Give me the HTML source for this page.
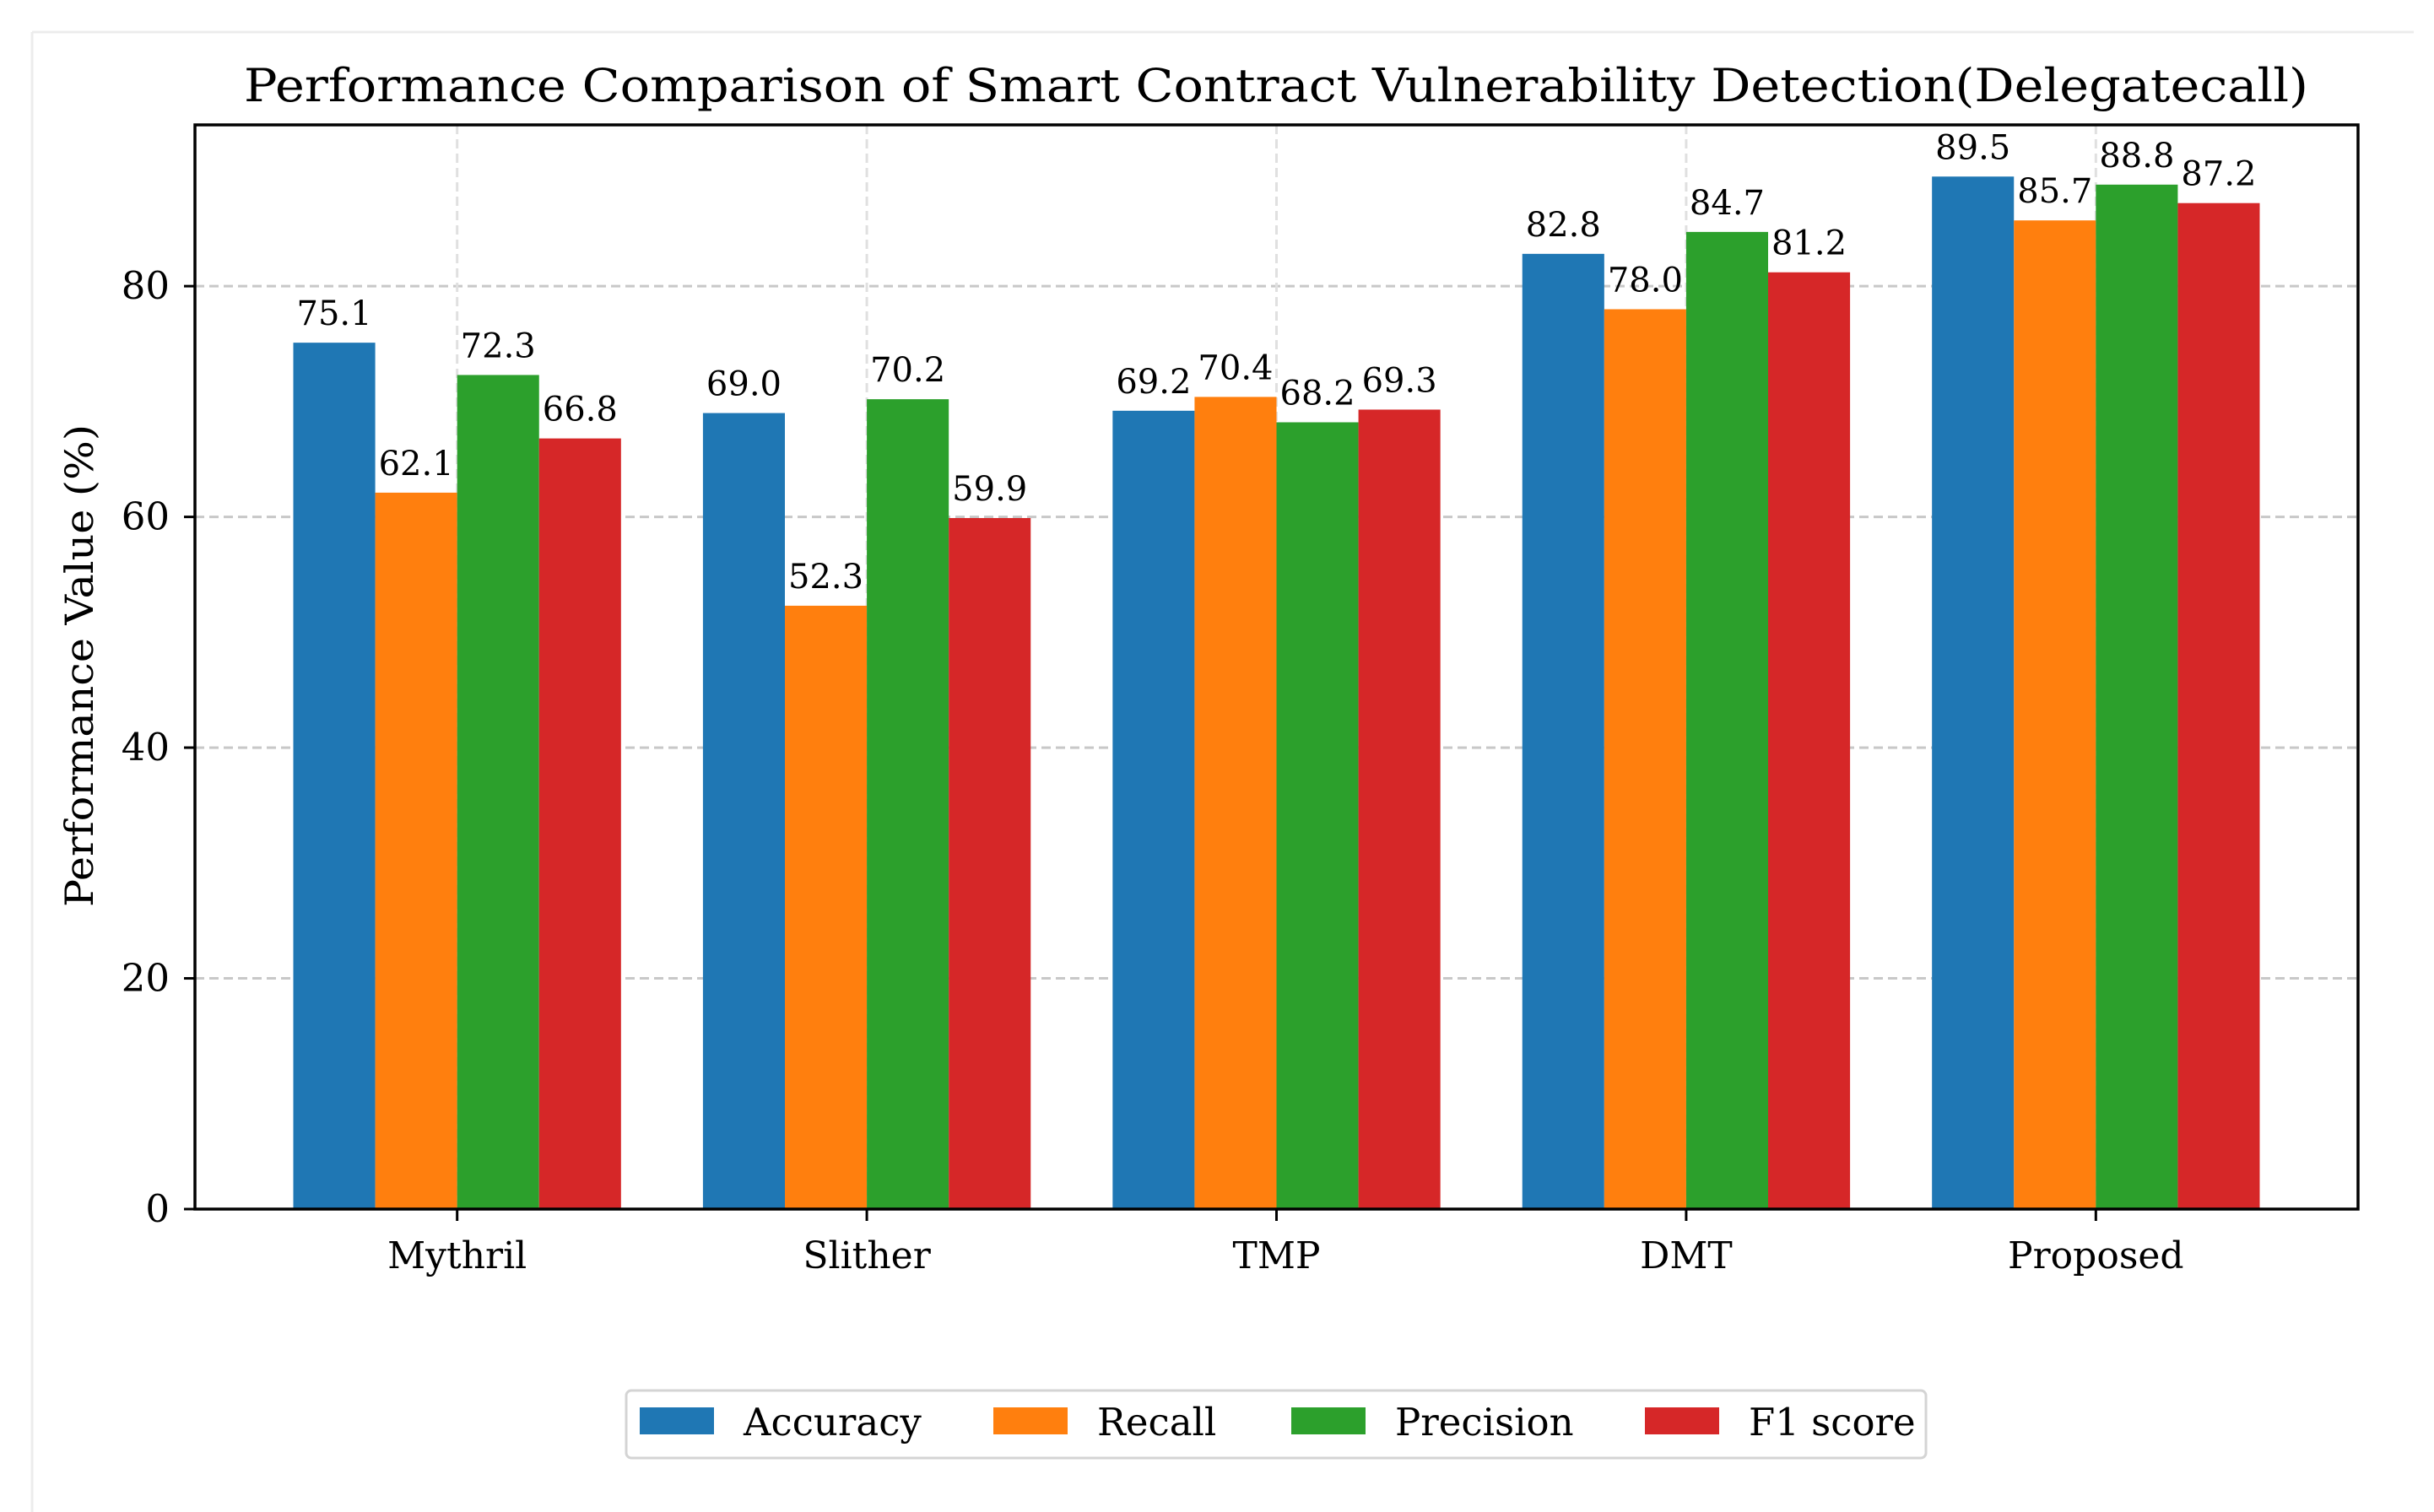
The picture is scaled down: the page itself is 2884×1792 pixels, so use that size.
<!DOCTYPE html>
<html><head><meta charset="utf-8"><style>
html,body{margin:0;padding:0;background:#fff;}
svg{display:block;font-family:"DejaVu Serif","Liberation Serif",serif;}
</style></head><body>
<svg id="chart" width="2884" height="1792" viewBox="0 0 2884 1792" xmlns="http://www.w3.org/2000/svg">
<line x1="38" y1="38" x2="2860" y2="38" stroke="#ececec" stroke-width="3"/>
<line x1="38" y1="38" x2="38" y2="1792" stroke="#ececec" stroke-width="3"/>
<text x="1512" y="120" font-size="54" text-anchor="middle" textLength="2446" lengthAdjust="spacingAndGlyphs" fill="#000">Performance Comparison of Smart Contract Vulnerability Detection(Delegatecall)</text>
<g id="grid"></g>
<g id="bars"></g>
<g id="labels"></g>
<g id="axes"></g>
<text transform="translate(110,789) rotate(-90)" font-size="46" text-anchor="middle" textLength="572" lengthAdjust="spacingAndGlyphs" fill="#000">Performance Value (%)</text>
<g id="legend"></g>
</svg>
<script>
const categories = ["Mythril","Slither","TMP","DMT","Proposed"];
const seriesNames = ["Accuracy","Recall","Precision","F1 score"];
const accuracy = [75.1,69.0,69.2,82.8,89.5];
const recall = [62.1,52.3,70.4,78.0,85.7];
const precision = [72.3,70.2,68.2,84.7,88.8];
const f1score = [66.8,59.9,69.3,81.2,87.2];
const yTicks = [0,20,40,60,80];
const series = [accuracy,recall,precision,f1score];
const colors = ["#1f77b4","#ff7f0e","#2ca02c","#d62728"];

const NS="http://www.w3.org/2000/svg";
const L=231,R=2794,T=148,B=1433;
const xMin=-0.64,xMax=categories.length-1+0.64,yMax=93.98;
const xs=v=>L+(v-xMin)/(xMax-xMin)*(R-L);
const ys=v=>B-v/yMax*(B-T);
const barW=0.2;
function mk(tag,attrs,parent){const e=document.createElementNS(NS,tag);for(const k in attrs)e.setAttribute(k,attrs[k]);parent.appendChild(e);return e;}
const grid=document.getElementById('grid'),bars=document.getElementById('bars'),labels=document.getElementById('labels'),axes=document.getElementById('axes');
yTicks.forEach(t=>{
  const g=mk('line',{x1:L,x2:R,y1:ys(t),y2:ys(t),stroke:'#c8c8c8','stroke-width':3,'stroke-dasharray':'11,6'},grid);
  
  
  const tk=mk('line',{x1:L-13,x2:L,y1:ys(t),y2:ys(t),stroke:'#000','stroke-width':3},axes);
  
  
  const tl=mk('text',{x:L-30,y:ys(t)+15,'font-size':45,'text-anchor':'end',fill:'#000'},axes);
  tl.textContent=t;
  
  
});
categories.forEach((c,i)=>{
  const g=mk('line',{x1:xs(i),x2:xs(i),y1:T,y2:B,stroke:'#e0e0e0','stroke-width':3,'stroke-dasharray':'11,6'},grid);
  
  
  const tk=mk('line',{x1:xs(i),x2:xs(i),y1:B,y2:B+14,stroke:'#000','stroke-width':3},axes);
  
  
  const tl=mk('text',{x:xs(i),y:1503,'font-size':44,'text-anchor':'middle',fill:'#000'},axes);
  tl.textContent=c;
  
  
  series.forEach((s,j)=>{
    const cx=i+(j-1.5)*barW;
    const x0=xs(cx-barW/2),x1=xs(cx+barW/2);
    const r=mk('rect',{x:x0,y:ys(s[i]),width:x1-x0,height:B-ys(s[i]),fill:colors[j]},bars);
    
    
    const vl=mk('text',{x:xs(cx),y:ys(s[i])-21,'font-size':40,'text-anchor':'middle',fill:'#000'},labels);
    vl.textContent=s[i].toFixed(1);
    
    
  });
});
const frame=mk('rect',{x:L,y:T,width:R-L,height:B-T,fill:'none',stroke:'#000','stroke-width':3.5},axes);


const leg=document.getElementById('legend');
const lb=mk('rect',{x:742,y:1648,width:1540,height:80,rx:6,fill:'#fff',stroke:'#d4d4d4','stroke-width':3},leg);


const patchX=[758,1177,1530,1949];
seriesNames.forEach((n,j)=>{
  const p=mk('rect',{x:patchX[j],y:1668,width:88,height:32,fill:colors[j]},leg);
  
  
  const t=mk('text',{x:patchX[j]+123,y:1701,'font-size':45,fill:'#000'},leg);
  t.textContent=n;
  
  
});
</script>
</body></html>
